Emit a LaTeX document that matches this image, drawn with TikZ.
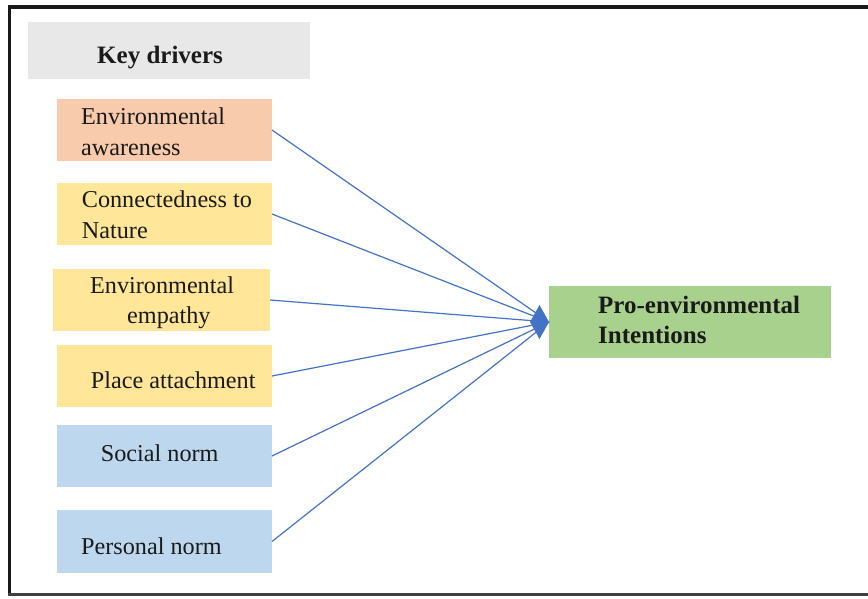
\documentclass[tikz,border=0pt]{standalone}
\usepackage{fontspec}
\setmainfont{Liberation Serif}
\definecolor{keygray}{HTML}{E8E8E8}
\definecolor{orng}{HTML}{F8CBAD}
\definecolor{yelw}{HTML}{FFE699}
\definecolor{lblue}{HTML}{BDD7EE}
\definecolor{grn}{HTML}{A9D18E}
\definecolor{conn}{HTML}{4472C4}
\definecolor{txt}{HTML}{1A1A1A}
\begin{document}
\begin{tikzpicture}[x=1pt,y=-1pt,
  box/.style={draw=none,inner sep=0pt,outer sep=0pt,minimum width=215pt,minimum height=62pt},
  lbl/.style={anchor=base west,inner sep=0pt,text=txt,font=\fontsize{24.2}{30}\selectfont},
  blbl/.style={anchor=base west,inner sep=0pt,text=txt,font=\fontsize{25}{30}\selectfont\bfseries},
  link/.style={draw=conn,line width=1.2pt}]
\useasboundingbox (0,0) rectangle (868,598);
\fill[white] (0,0) rectangle (868,598);
% frame
\draw[line width=4pt,black!90] (9.3,7) -- (868,7);
\draw[line width=3.5pt,black!90] (9.3,5) -- (9.3,596);
\draw[line width=3pt,black!75] (7.5,594.3) -- (868,594.3);
% boxes
\node[box,fill=keygray,minimum width=282pt,minimum height=57pt] (kd) at (169,50.5) {};
\node[box,fill=orng] (ea) at (164.5,130) {};
\node[box,fill=yelw] (cn) at (164.5,214) {};
\node[box,fill=yelw,minimum width=217pt] (ee) at (161.5,300) {};
\node[box,fill=yelw] (pa) at (164.5,376) {};
\node[box,fill=lblue] (sn) at (164.5,456) {};
\node[box,fill=lblue,minimum height=63pt] (pn) at (164.5,541.5) {};
\node[box,fill=grn,minimum width=282pt,minimum height=72pt] (pe) at (690,322) {};
% texts
\node[blbl] (tkd) at (97,63) {Key drivers};
\node[lbl] (tea1) at (81,124) {Environmental};
\node[lbl] (tea2) at (81,155) {awareness};
\node[lbl] (tcn1) at (81.7,207) {Connectedness to};
\node[lbl] (tcn2) at (81.7,238) {Nature};
\node[lbl] (tee1) at (90,293) {Environmental};
\node[lbl] (tee2) at (127,323) {empathy};
\node[lbl] (tpa) at (90.7,388) {Place attachment};
\node[lbl] (tsn) at (100.7,461) {Social norm};
\node[lbl] (tpn) at (81,554) {Personal norm};
\node[blbl] (tpe1) at (598,313) {Pro-environmental};
\node[blbl] (tpe2) at (598,343) {Intentions};
% connectors
\foreach \s in {ea,cn,ee,pa,sn,pn}{\draw[link] (\s.east) -- (pe.west);}
\fill[conn] (pe.west) -- ++(-9.5,-17) -- ++(-9.5,17) -- ++(9.5,17) -- cycle;
\end{tikzpicture}
\end{document}
